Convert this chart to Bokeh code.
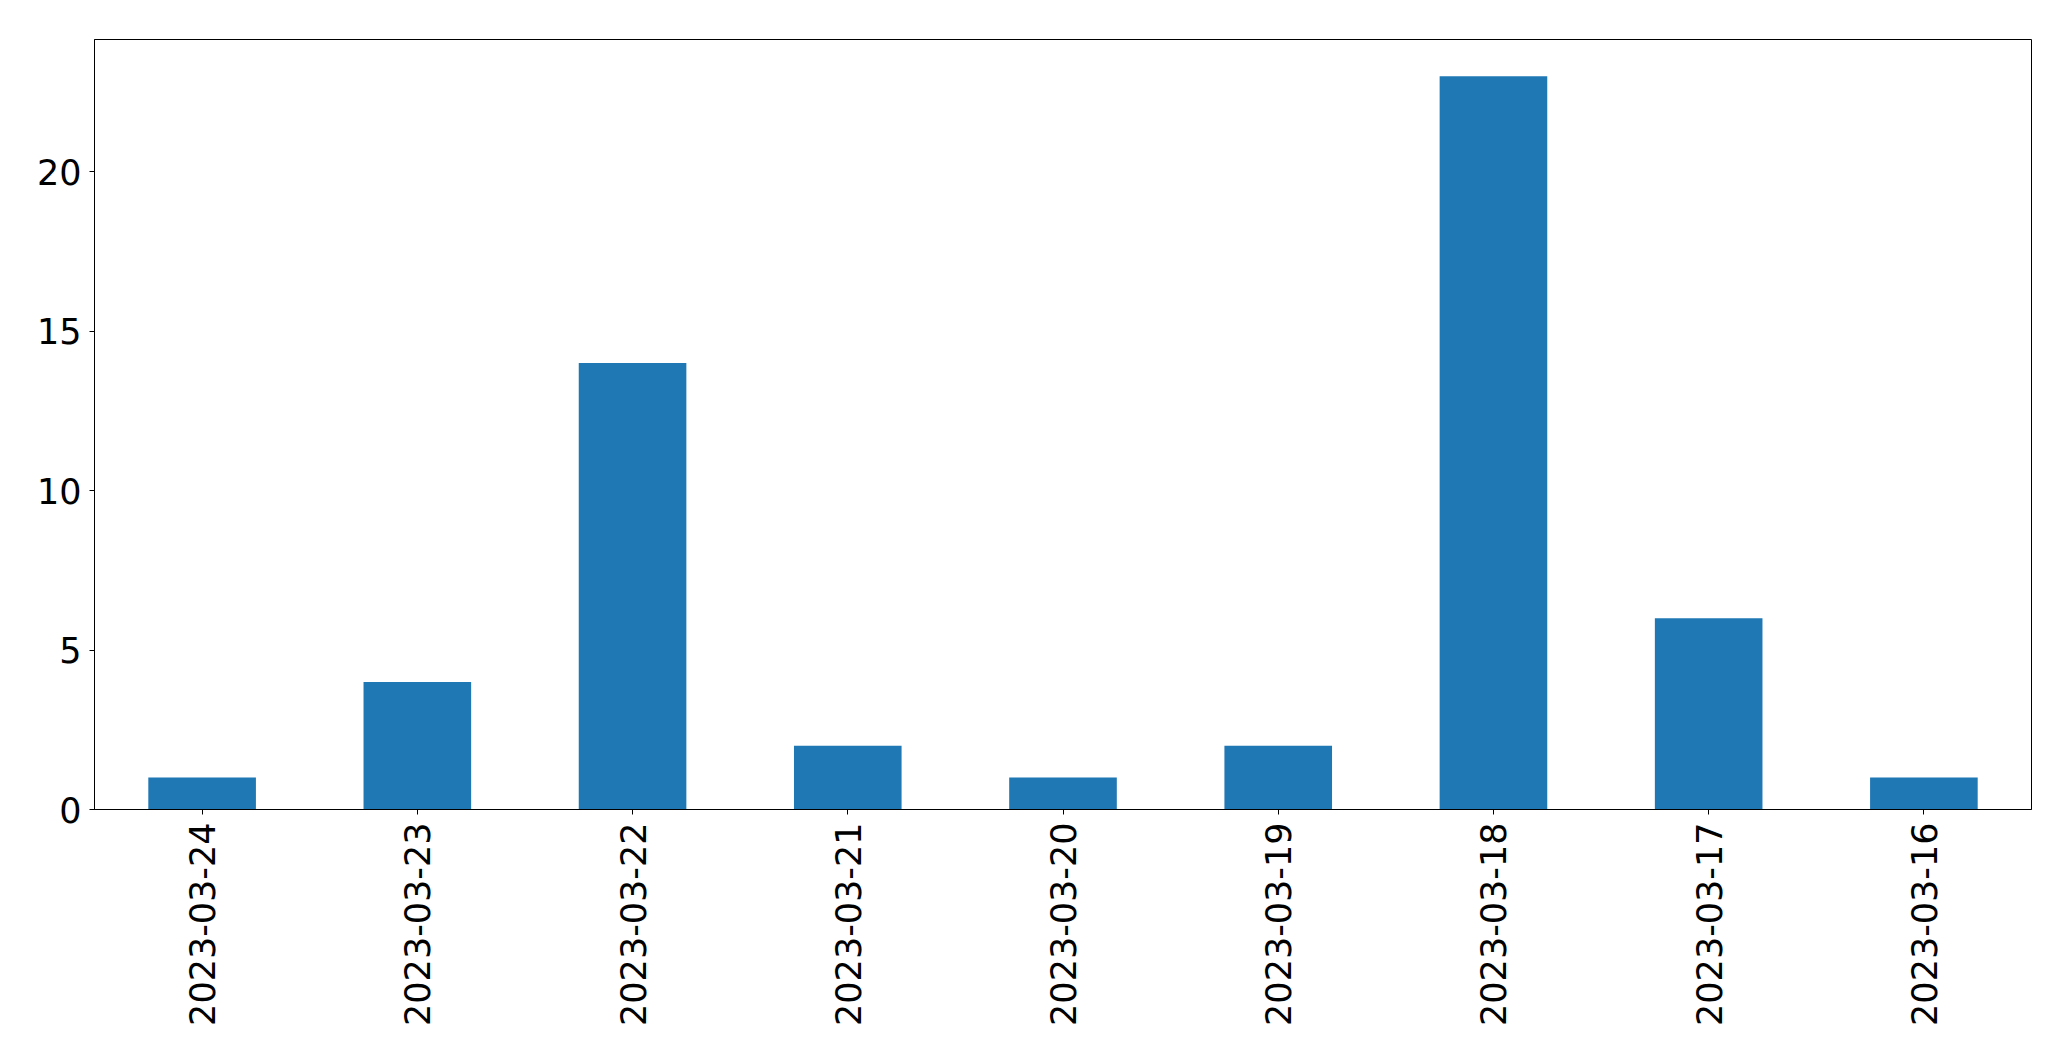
import math
from bokeh.plotting import figure
from bokeh.models import FixedTicker, ColumnDataSource
from bokeh.embed import file_html
from bokeh.resources import INLINE

dates = ["2023-03-24", "2023-03-23", "2023-03-22", "2023-03-21", "2023-03-20",
         "2023-03-19", "2023-03-18", "2023-03-17", "2023-03-16"]
counts = [1, 4, 14, 2, 1, 2, 23, 6, 1]
y_ticks = [0, 5, 10, 15, 20]

source = ColumnDataSource(data=dict(dates=dates, counts=counts))

p = figure(x_range=dates, y_range=(0, max(counts) * 1.05),
           frame_width=1937, frame_height=770,
           min_border_left=94, min_border_right=32, min_border_top=39, min_border_bottom=244,
           output_backend="svg", toolbar_location=None, background_fill_color="white",
           border_fill_color="white")

p.vbar(x="dates", top="counts", width=0.5, source=source, color="#1f77b4", line_color=None)

p.xgrid.visible = False
p.ygrid.visible = False
p.outline_line_color = "black"
p.outline_line_width = 1

for ax in (p.xaxis[0], p.yaxis[0]):
    ax.axis_line_color = "black"
    ax.major_tick_line_color = "black"
    ax.major_tick_out = 5
    ax.major_tick_in = 0
    ax.minor_tick_line_color = None
    ax.major_label_text_font = "DejaVu Sans"
    ax.major_label_text_font_size = "35px"
    ax.major_label_text_color = "black"

p.yaxis[0].ticker = FixedTicker(ticks=y_ticks)
p.yaxis[0].major_label_standoff = 8
p.xaxis[0].major_label_orientation = math.pi / 2
p.xaxis[0].major_label_standoff = 8

open("out.html", "w").write(file_html(p, INLINE))
